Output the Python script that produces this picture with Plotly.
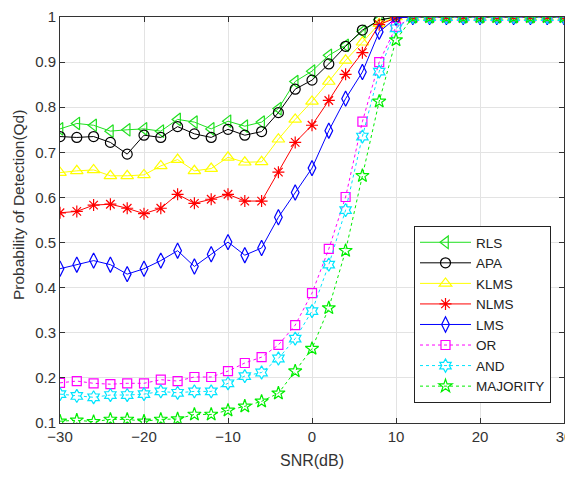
import plotly.graph_objects as go

snr = list(range(-30, 31, 2))
ones = [1.0] * 10

rls = [0.752, 0.764, 0.760, 0.747, 0.750, 0.752, 0.747, 0.773, 0.767, 0.752, 0.769,
       0.758, 0.767, 0.797, 0.857, 0.880, 0.915, 0.937, 0.968, 0.994, 1.0] + ones
apa = [0.735, 0.733, 0.735, 0.722, 0.696, 0.738, 0.733, 0.757, 0.741, 0.733, 0.751,
       0.738, 0.746, 0.788, 0.840, 0.860, 0.896, 0.935, 0.971, 0.993, 1.0] + ones
klms = [0.655, 0.659, 0.661, 0.648, 0.648, 0.650, 0.670, 0.684, 0.659, 0.664, 0.689,
        0.678, 0.679, 0.729, 0.773, 0.813, 0.857, 0.904, 0.944, 0.985, 1.0] + ones
nlms = [0.566, 0.569, 0.583, 0.585, 0.576, 0.564, 0.576, 0.607, 0.587, 0.596, 0.607,
        0.592, 0.592, 0.656, 0.722, 0.760, 0.815, 0.873, 0.921, 0.983, 0.998] + ones
lms = [0.442, 0.451, 0.460, 0.451, 0.430, 0.442, 0.460, 0.482, 0.447, 0.474, 0.501,
       0.472, 0.488, 0.556, 0.611, 0.665, 0.748, 0.819, 0.878, 0.967, 0.998] + ones
or_rule = [0.189, 0.193, 0.188, 0.186, 0.188, 0.188, 0.196, 0.193, 0.202, 0.202, 0.215,
           0.233, 0.246, 0.273, 0.317, 0.388, 0.486, 0.601, 0.768, 0.900, 0.978] + ones
and_rule = [0.164, 0.160, 0.157, 0.162, 0.162, 0.164, 0.170, 0.167, 0.170, 0.170, 0.188,
            0.204, 0.212, 0.243, 0.287, 0.348, 0.451, 0.572, 0.735, 0.879, 0.975] + ones
majority = [0.104, 0.106, 0.103, 0.108, 0.108, 0.104, 0.108, 0.109, 0.119, 0.119, 0.128,
            0.137, 0.148, 0.166, 0.215, 0.265, 0.355, 0.482, 0.648, 0.813, 0.949] + ones

x_title = "SNR(dB)"
y_title = "Probability of Detection(Qd)"

series = [
    ("RLS", rls, "#1fe01f", "triangle-left-open", "solid", 11),
    ("APA", apa, "#000000", "circle-open", "solid", 10),
    ("KLMS", klms, "#ffff00", "triangle-up-open", "solid", 11),
    ("NLMS", nlms, "#ff0000", "asterisk-open", "solid", 10),
    ("LMS", lms, "#0000ff", "diamond-tall-open", "solid", 11),
    ("OR", or_rule, "#ff00ff", "square-open", "dot", 9),
    ("AND", and_rule, "#00e5ff", "hexagram-open", "dot", 10),
    ("MAJORITY", majority, "#00ee00", "star-open", "dot", 10),
]

fig = go.Figure()
for name, vals, color, sym, dash, size in series:
    fig.add_trace(go.Scatter(
        x=snr, y=vals, name=name, mode="lines+markers",
        line=dict(color=color, width=1, dash=dash),
        marker=dict(symbol=sym, size=size, color=color, line=dict(color=color, width=1.2)),
    ))

axis_common = dict(
    showline=True, linecolor="#333333", linewidth=1, mirror="ticks",
    ticks="inside", ticklen=5, tickcolor="#333333", automargin=False,
    showgrid=True, gridcolor="#e3e3e3", gridwidth=1, zeroline=False,
    ticklabeloverflow="allow",
    tickfont=dict(family="Liberation Sans, Arial", size=15, color="#333333"),
)

# the page body adds an 8px offset; work in screen pixels minus that offset
OFF = 8
W, H = 573 - OFF, 477 - OFF
L, R, T, B = 60 - OFF, 9, 17 - OFF, 477 - 423
pw, ph = W - L - R, H - T - B


def px_x(sx):
    return (sx - OFF - L) / pw


def px_y(sy):
    return (H - B - (sy - OFF)) / ph


fig.update_layout(
    width=W, height=H,
    margin=dict(l=L, r=R, t=T, b=B, autoexpand=False),
    paper_bgcolor="white", plot_bgcolor="white",
    font=dict(family="Liberation Sans, Arial", size=14, color="#333333"),
    xaxis=dict(range=[-30, 30], dtick=10, tick0=-30, **axis_common),
    yaxis=dict(range=[0.1, 1], dtick=0.1, tick0=0.1, **axis_common),
    legend=dict(x=px_x(414), y=px_y(403), xanchor="left", yanchor="bottom",
                bgcolor="white", bordercolor="#222222", borderwidth=1,
                font=dict(size=13.5, color="#222222"), itemwidth=51, tracegroupgap=0),
    showlegend=True,
    annotations=[
        dict(text=x_title, xref="paper", yref="paper",
             x=px_x(312), y=px_y(460), xanchor="center", yanchor="middle",
             showarrow=False, font=dict(size=16, color="#333333")),
        dict(text=y_title, xref="paper", yref="paper", textangle=-90,
             x=px_x(18), y=px_y(205), xanchor="center", yanchor="middle",
             showarrow=False, font=dict(size=15.5, color="#333333")),
    ],
)

fig.write_html("out.html")
